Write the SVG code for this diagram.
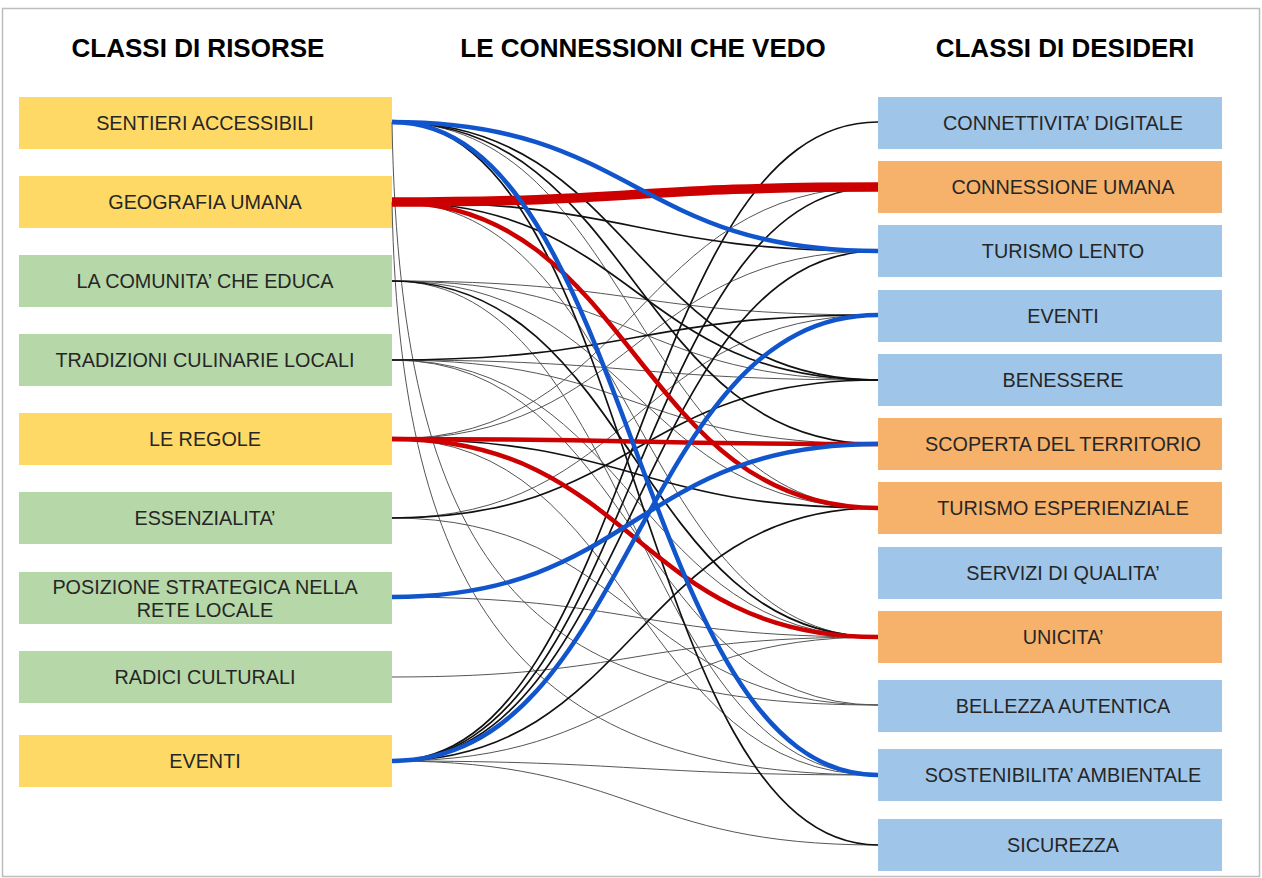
<svg xmlns="http://www.w3.org/2000/svg" width="1262" height="878" viewBox="0 0 1262 878">
  <style>
    .title { font-family: "Liberation Sans", Arial, sans-serif; font-weight: bold; font-size: 26px; fill: #000; text-anchor: middle; }
    .lbl { font-family: "Liberation Sans", Arial, sans-serif; font-size: 19.8px; fill: #262626; text-anchor: middle; }
    .yel { fill: #FFD966; }
    .grn { fill: #B6D7A8; }
    .blu { fill: #9FC5E8; }
    .org { fill: #F6B26B; }
    #connectors path { fill: none; }
    .t { stroke: #555; stroke-width: 1; }
    .k { stroke: #111; stroke-width: 1.7; }
    .r { stroke: #CC0000; stroke-width: 4.5; }
    .rt { stroke: #CC0000; stroke-width: 9.5; }
    .b { stroke: #1155CC; stroke-width: 4.5; }
  </style>

  <rect x="0" y="0" width="1262" height="878" fill="#fff"/>
  <rect x="2.5" y="8.5" width="1257" height="868" fill="none" stroke="#bdbdbd" stroke-width="1.5"/>

  <!-- column headings -->
  <text class="title" x="198" y="57">CLASSI DI RISORSE</text>
  <text class="title" x="643" y="57">LE CONNESSIONI CHE VEDO</text>
  <text class="title" x="1065" y="57">CLASSI DI DESIDERI</text>

  <!-- resources (left column) -->
  <g id="r-sentieri"><rect class="yel" x="19" y="97" width="373" height="52"/><text class="lbl" x="205" y="130">SENTIERI ACCESSIBILI</text></g>
  <g id="r-geografia"><rect class="yel" x="19" y="176" width="373" height="52"/><text class="lbl" x="205" y="209">GEOGRAFIA UMANA</text></g>
  <g id="r-comunita"><rect class="grn" x="19" y="255" width="373" height="52"/><text class="lbl" x="205" y="288">LA COMUNITA’ CHE EDUCA</text></g>
  <g id="r-tradizioni"><rect class="grn" x="19" y="334" width="373" height="52"/><text class="lbl" x="205" y="367">TRADIZIONI CULINARIE LOCALI</text></g>
  <g id="r-regole"><rect class="yel" x="19" y="413" width="373" height="52"/><text class="lbl" x="205" y="446">LE REGOLE</text></g>
  <g id="r-essenzialita"><rect class="grn" x="19" y="492" width="373" height="52"/><text class="lbl" x="205" y="525">ESSENZIALITA’</text></g>
  <g id="r-posizione"><rect class="grn" x="19" y="572" width="373" height="52"/><text class="lbl" x="205" y="594">POSIZIONE STRATEGICA NELLA</text><text class="lbl" x="205" y="617">RETE LOCALE</text></g>
  <g id="r-radici"><rect class="grn" x="19" y="651" width="373" height="52"/><text class="lbl" x="205" y="684">RADICI CULTURALI</text></g>
  <g id="r-eventi"><rect class="yel" x="19" y="735" width="373" height="52"/><text class="lbl" x="205" y="768">EVENTI</text></g>

  <!-- wishes (right column) -->
  <g id="d-connettivita"><rect class="blu" x="878" y="97" width="344" height="52"/><text class="lbl" x="1063" y="130">CONNETTIVITA’ DIGITALE</text></g>
  <g id="d-connessione"><rect class="org" x="878" y="161" width="344" height="52"/><text class="lbl" x="1063" y="194">CONNESSIONE UMANA</text></g>
  <g id="d-turismo-lento"><rect class="blu" x="878" y="225" width="344" height="52"/><text class="lbl" x="1063" y="258">TURISMO LENTO</text></g>
  <g id="d-eventi"><rect class="blu" x="878" y="290" width="344" height="52"/><text class="lbl" x="1063" y="323">EVENTI</text></g>
  <g id="d-benessere"><rect class="blu" x="878" y="354" width="344" height="52"/><text class="lbl" x="1063" y="387">BENESSERE</text></g>
  <g id="d-scoperta"><rect class="org" x="878" y="418" width="344" height="52"/><text class="lbl" x="1063" y="451">SCOPERTA DEL TERRITORIO</text></g>
  <g id="d-esperienziale"><rect class="org" x="878" y="482" width="344" height="52"/><text class="lbl" x="1063" y="515">TURISMO ESPERIENZIALE</text></g>
  <g id="d-servizi"><rect class="blu" x="878" y="547" width="344" height="52"/><text class="lbl" x="1063" y="580">SERVIZI DI QUALITA’</text></g>
  <g id="d-unicita"><rect class="org" x="878" y="611" width="344" height="52"/><text class="lbl" x="1063" y="644">UNICITA’</text></g>
  <g id="d-bellezza"><rect class="blu" x="878" y="680" width="344" height="52"/><text class="lbl" x="1063" y="713">BELLEZZA AUTENTICA</text></g>
  <g id="d-sostenibilita"><rect class="blu" x="878" y="749" width="344" height="52"/><text class="lbl" x="1063" y="782">SOSTENIBILITA’ AMBIENTALE</text></g>
  <g id="d-sicurezza"><rect class="blu" x="878" y="819" width="344" height="52"/><text class="lbl" x="1063" y="852">SICUREZZA</text></g>

  <g id="connectors">
    <!-- weak links -->
    <path class="t" d="M392,122 C635,122 635,508 878,508"/>
    <path class="t" d="M392,122 C400,597 548,705 878,705"/>
    <path class="t" d="M392,202 C400,632 548,775 878,775"/>
    <path class="t" d="M392,202 C635,202 635,637 878,637"/>
    <path class="t" d="M392,281 C635,281 635,315 878,315"/>
    <path class="t" d="M392,281 C635,281 635,380 878,380"/>
    <path class="t" d="M392,281 C635,281 635,508 878,508"/>
    <path class="t" d="M392,281 C635,281 635,775 878,775"/>
    <path class="t" d="M392,360 C635,360 635,380 878,380"/>
    <path class="t" d="M392,360 C635,360 635,444 878,444"/>
    <path class="t" d="M392,360 C635,360 635,637 878,637"/>
    <path class="t" d="M392,360 C635,360 635,705 878,705"/>
    <path class="t" d="M392,439 C635,439 635,187 878,187"/>
    <path class="t" d="M392,439 C635,439 635,251 878,251"/>
    <path class="t" d="M392,439 C635,439 635,775 878,775"/>
    <path class="t" d="M392,518 C635,518 635,315 878,315"/>
    <path class="t" d="M392,518 C635,518 635,705 878,705"/>
    <path class="t" d="M392,597 C635,597 635,637 878,637"/>
    <path class="t" d="M392,677 C635,677 635,637 878,637"/>
    <path class="t" d="M392,761 C635,761 635,637 878,637"/>
    <path class="t" d="M392,761 C635,761 635,775 878,775"/>
    <path class="t" d="M392,761 C635,761 635,845 878,845"/>
    <!-- strong links -->
    <path class="k" d="M392,761 C635,761 635,122 878,122"/>
    <path class="k" d="M392,761 C635,761 635,187 878,187"/>
    <path class="k" d="M392,761 C635,761 635,251 878,251"/>
    <path class="k" d="M392,761 C635,761 635,508 878,508"/>
    <path class="k" d="M392,122 C635,122 635,845 878,845"/>
    <path class="k" d="M392,122 C635,122 635,380 878,380"/>
    <path class="k" d="M392,122 C635,122 635,444 878,444"/>
    <path class="k" d="M392,202 C635,202 635,251 878,251"/>
    <path class="k" d="M392,202 C635,202 635,380 878,380"/>
    <path class="k" d="M392,281 C635,281 635,637 878,637"/>
    <path class="k" d="M392,360 C635,360 635,315 878,315"/>
    <path class="k" d="M392,439 C635,439 635,508 878,508"/>
    <path class="k" d="M392,518 C635,518 635,380 878,380"/>
    <!-- red links -->
    <path class="rt" d="M392,202 C635,202 635,187 878,187"/>
    <path class="r" d="M392,202 C635,202 635,508 878,508"/>
    <path class="r" d="M392,439 C635,439 635,444 878,444"/>
    <path class="r" d="M392,439 C635,439 635,637 878,637"/>
    <!-- blue links -->
    <path class="b" d="M392,122 C635,122 635,251 878,251"/>
    <path class="b" d="M392,122 C635,122 635,775 878,775"/>
    <path class="b" d="M392,761 C635,761 635,315 878,315"/>
    <path class="b" d="M392,597 C635,597 635,444 878,444"/>
  </g>
</svg>
